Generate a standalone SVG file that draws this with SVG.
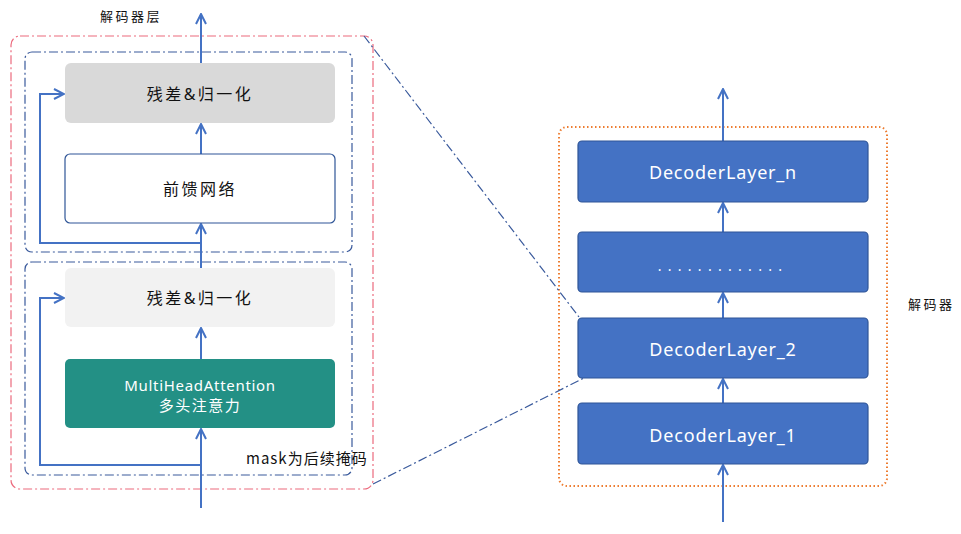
<svg xmlns="http://www.w3.org/2000/svg" width="961" height="534" viewBox="0 0 961 534">
<style>
.t{font-family:"Noto Sans","Noto Sans CJK SC",sans-serif;text-anchor:middle;dominant-baseline:central}
.cn{font-family:"Noto Sans CJK SC","Noto Sans",sans-serif;dominant-baseline:central}
.ln{fill:none;stroke:#4472c4;stroke-width:2}
.blk{fill:#4472c4;stroke:#2f5597;stroke-width:1.2}
.dd{fill:none;stroke:#3a5a9c;stroke-width:1.2;stroke-dasharray:9 3 2 3}
.lt{font-size:18px;letter-spacing:0.8px;fill:#fff}
</style>
<defs>
<marker id="a" viewBox="0 0 12 12" refX="11" refY="6" markerWidth="12" markerHeight="12" markerUnits="userSpaceOnUse" orient="auto">
<path d="M1,1 L11,6 L1,11" fill="none" stroke="#4472c4" stroke-width="2"/>
</marker>
</defs>
<g id="containers">
<rect id="decoder-layer-box" x="11" y="36" width="362" height="453" rx="9" fill="none" stroke="#ec6a7d" stroke-width="1.2" stroke-dasharray="9 3 2 3"/>
<rect id="top-sub" x="25" y="52" width="327" height="200" rx="7" class="dd"/>
<rect id="bottom-sub" x="25" y="262" width="327" height="213" rx="7" class="dd"/>
<rect id="decoder-box" x="559" y="127" width="328" height="359" rx="8" fill="none" stroke="#ed7d31" stroke-width="2" stroke-dasharray="1.5 2.5"/>
</g>
<g id="connectors">
<line class="ln" x1="201" y1="508" x2="201" y2="429" marker-end="url(#a)"/>
<line class="ln" x1="201" y1="359" x2="201" y2="328" marker-end="url(#a)"/>
<line class="ln" x1="201" y1="268" x2="201" y2="224" marker-end="url(#a)"/>
<line class="ln" x1="201" y1="154" x2="201" y2="124" marker-end="url(#a)"/>
<line class="ln" x1="201" y1="63" x2="201" y2="14" marker-end="url(#a)"/>
<polyline class="ln" points="201,465 40,465 40,298 64,298" marker-end="url(#a)"/>
<polyline class="ln" points="201,243 40,243 40,94 64,94" marker-end="url(#a)"/>
<line class="ln" x1="723" y1="522" x2="723" y2="465" marker-end="url(#a)"/>
<line class="ln" x1="723" y1="403" x2="723" y2="379" marker-end="url(#a)"/>
<line class="ln" x1="723" y1="318" x2="723" y2="293" marker-end="url(#a)"/>
<line class="ln" x1="723" y1="232" x2="723" y2="203" marker-end="url(#a)"/>
<line class="ln" x1="723" y1="141" x2="723" y2="89" marker-end="url(#a)"/>
<line class="dd" x1="364" y1="36" x2="579" y2="317"/>
<line class="dd" x1="373" y1="484" x2="584" y2="378"/>
</g>
<g id="residual-top">
<rect x="65" y="63" width="270" height="60" rx="6" fill="#d9d9d9"/>
<text class="t" x="200" y="94" font-size="16" letter-spacing="2.5" fill="#111">残差&amp;归一化</text>
</g>
<g id="ffn">
<rect x="65" y="154" width="270" height="69" rx="5" fill="#fff" stroke="#2f5597" stroke-width="1.2"/>
<text class="t" x="200" y="189" font-size="16" letter-spacing="2.5" fill="#111">前馈网络</text>
</g>
<g id="residual-bottom">
<rect x="65" y="268" width="270" height="59" rx="6" fill="#f2f2f2"/>
<text class="t" x="200" y="298" font-size="16" letter-spacing="2.5" fill="#111">残差&amp;归一化</text>
</g>
<g id="mha">
<rect x="65" y="359" width="270" height="69" rx="5" fill="#239085"/>
<text class="t" x="200" y="385" font-size="15" letter-spacing="0.7" fill="#fff">MultiHeadAttention</text>
<text class="t" x="200" y="405" font-size="15" letter-spacing="1.5" fill="#fff">多头注意力</text>
</g>
<g id="labels">
<text class="cn" x="100" y="15" font-size="13" letter-spacing="2.5" fill="#111">解码器层</text>
<text class="cn" x="246" y="457" font-size="15" letter-spacing="1" fill="#111">mask为后续掩码</text>
<text class="cn" x="908" y="303" font-size="13" letter-spacing="2.5" fill="#111">解码器</text>
</g>
<g id="layer-n">
<rect class="blk" x="578" y="141" width="290" height="61" rx="4"/>
<text class="t lt" x="723" y="172">DecoderLayer_n</text>
</g>
<g id="layer-dots">
<rect class="blk" x="578" y="232" width="290" height="60" rx="4"/>
<text class="t" x="723" y="265" font-size="14" letter-spacing="6.3" fill="#fff">.............</text>
</g>
<g id="layer-2">
<rect class="blk" x="578" y="318" width="290" height="60" rx="4"/>
<text class="t lt" x="723" y="349">DecoderLayer_2</text>
</g>
<g id="layer-1">
<rect class="blk" x="578" y="403" width="290" height="61" rx="4"/>
<text class="t lt" x="723" y="435">DecoderLayer_1</text>
</g>
</svg>
